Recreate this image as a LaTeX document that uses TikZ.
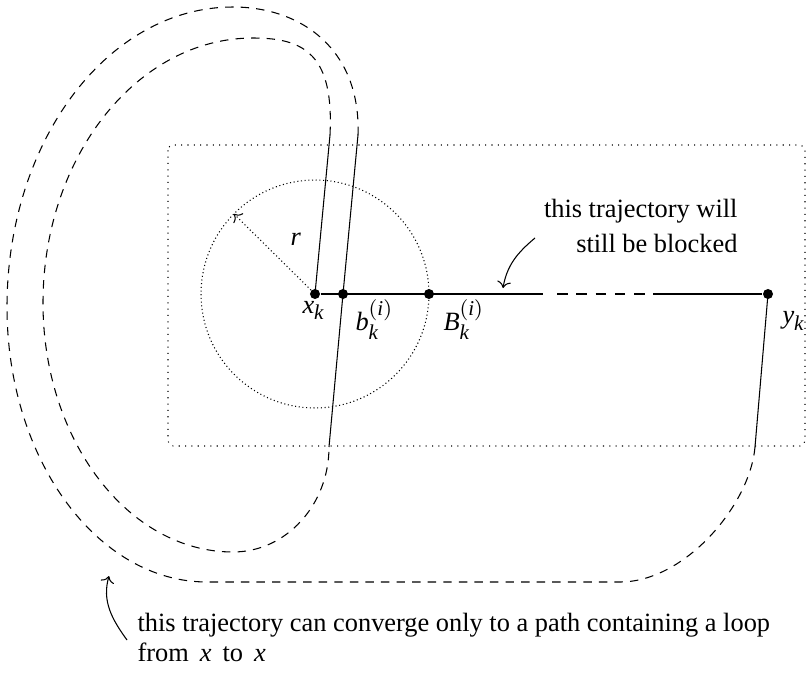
\documentclass[tikz,border=0pt]{standalone}
\usepackage{amsmath}
\usepackage{fontspec}
\setmainfont{Liberation Serif}
\DeclareMathSizes{10}{10}{8}{6}
\usetikzlibrary{positioning, arrows.meta, calc}
\newcommand{\vr}[1]{\textit{#1}}

\begin{document}
\begin{tikzpicture}[
    x=0.379pt, y=-0.379pt,
    pnt/.style={circle, fill=black, inner sep=0pt, minimum size=3.8pt},
    lbl/.style={inner sep=0pt},
    traj/.style={dash pattern=on 3.2pt off 2.7pt},
    gapdash/.style={dash pattern=on 4pt off 3.3pt},
    region/.style={dotted, rounded corners=2pt},
    note/.style={->}
]

% Parameters
\def\rowY{294}
\def\ballR{43.2pt}

\useasboundingbox (0,0) rectangle (812,674);

% Region
\draw[region] (168,145) rectangle (805,446);

% Points on the segment
\foreach \n/\x in {xk/315, bk/343, Bk/429, yk/768} {
    \node[pnt] (\n) at (\x,\rowY) {};
}

% Ball and radius
\draw[densely dotted] (xk.center) circle[radius=\ballR];
\coordinate (rEnd) at (234,214);
\draw[densely dotted, ->] (xk) -- (rEnd);
\node[lbl, anchor=base west] (rlbl) at (290,245) {$\vr{r}$};

% Segment from x_k to y_k
\coordinate (gapA) at (543,\rowY);
\coordinate (dashA) at (557,\rowY);
\coordinate (dashB) at (647,\rowY);
\coordinate (gapB) at (653,\rowY);
\draw (xk) -- (gapA);
\draw[gapdash] (dashA) -- (dashB);
\draw (gapB) -- (yk);

% Trajectory with the loop
\coordinate (xtop) at (330,135);
\coordinate (btop) at (358,135);
\coordinate (bbot) at (329,447);
\coordinate (ybot) at (755,447);
\draw (xk.center) -- (xtop);
\draw[traj] (xtop) .. controls (334,55) and (305,38) .. (253,38)
    .. controls (137,38) and (43,157) .. (43,303)
    .. controls (43,440) and (128,552) .. (233,552)
    .. controls (286,552) and (329,505) .. (bbot);
\draw (bbot) -- (bk.center) -- (btop);
\draw[traj] (btop) .. controls (361,50) and (302,7) .. (233,7)
    .. controls (108,7) and (7,141) .. (7,307)
    .. controls (7,459) and (97,582) .. (207,582)
    -- (620,582)
    .. controls (685,582) and (750,505) .. (ybot);
\draw (ybot) -- (yk.center);

% Point labels
\node[lbl, anchor=base west] (xklbl) at (302,314) {$\vr{x}_{\vr{k}}$};
\node[lbl, anchor=base west] (bklbl) at (355,330) {$\vr{b}_{\vr{k}}^{(\vr{i})}$};
\node[lbl, anchor=base west] (Bklbl) at (443,330) {$\vr{B}_{\vr{k}}^{(\vr{i})}$};
\node[lbl, anchor=base west] (yklbl) at (782,323) {$\vr{y}_{\vr{k}}$};

% Notes (base anchor sits on the last line)
\node[lbl, anchor=base east, align=right, font=\fontsize{10pt}{12.9pt}\selectfont]
    (blocked) at (738,252) {this trajectory will\\still be blocked};
\coordinate (blkFrom) at (535,238);
\coordinate (blkTo) at (503,288);
\draw[note] (blkFrom) to[out=220, in=80] (blkTo);

\node[lbl, anchor=base west, align=left, font=\fontsize{10pt}{11.4pt}\selectfont]
    (loopnote) at (137,662) {this trajectory can converge only to a path containing a loop\\from~$\,\vr{x}\,$~to~$\,\vr{x}$};
\coordinate (lpFrom) at (127,640);
\coordinate (lpTo) at (109,576);
\draw[note] (lpFrom) to[out=126, in=-106] (lpTo);

\end{tikzpicture}
\end{document}
